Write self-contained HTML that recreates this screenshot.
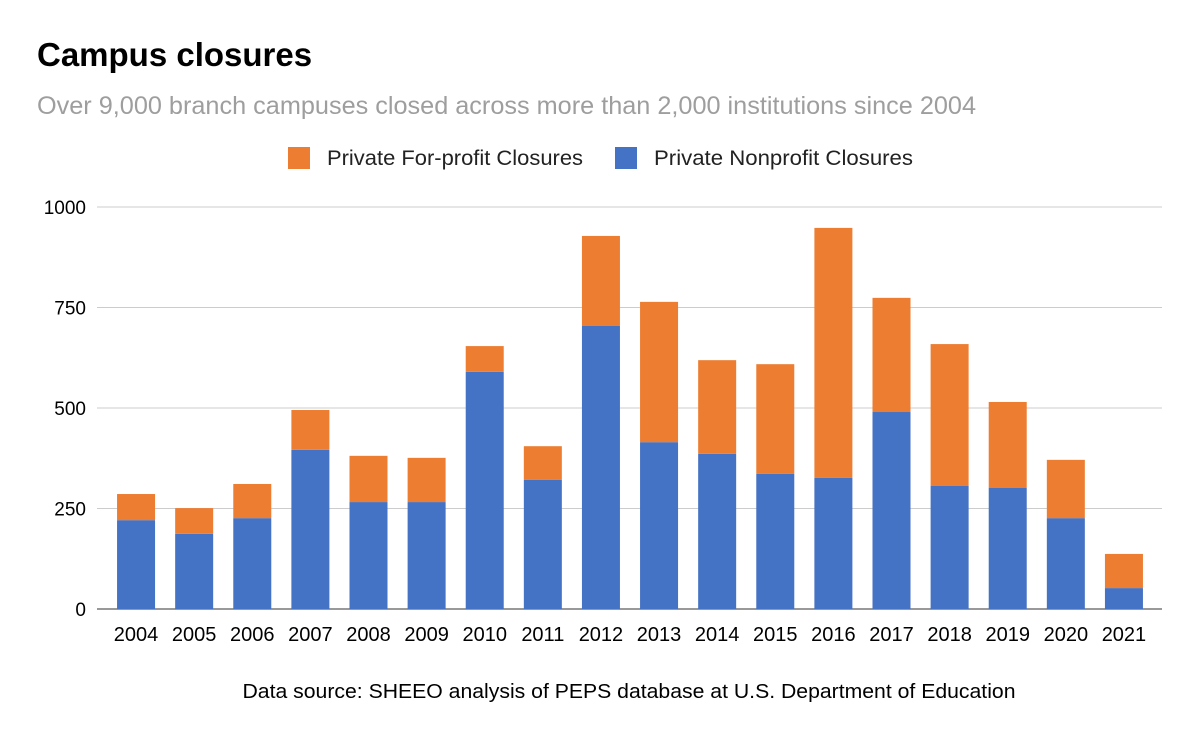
<!DOCTYPE html>
<html><head><meta charset="utf-8">
<style>
body{margin:0;background:#fff;font-family:"Liberation Sans",sans-serif;}
#wrap{position:relative;width:1200px;height:742px;overflow:hidden;}
</style></head>
<body>
<div id="wrap">
<svg id="chart" width="1200" height="742" xmlns="http://www.w3.org/2000/svg">
<text x="37" y="66" font-size="33" font-weight="bold" fill="#000">Campus closures</text>
<text x="37" y="114" font-size="25" fill="#9e9e9e" textLength="939" lengthAdjust="spacingAndGlyphs">Over 9,000 branch campuses closed across more than 2,000 institutions since 2004</text>
<g>
<g><rect x="288" y="147" width="22" height="22" fill="#ed7d31"/><text x="327" y="165" font-size="21" fill="#222" textLength="256" lengthAdjust="spacingAndGlyphs">Private For-profit Closures</text></g>
<g><rect x="615" y="147" width="22" height="22" fill="#4472c4"/><text x="654" y="165" font-size="21" fill="#222" textLength="259" lengthAdjust="spacingAndGlyphs">Private Nonprofit Closures</text></g>
</g>
<g id="grid"></g>
<g id="bars"></g>
<g id="xlabels"></g>
<g id="ylabels"></g>
<text x="629" y="698" font-size="20" fill="#000" text-anchor="middle" textLength="773" lengthAdjust="spacingAndGlyphs">Data source: SHEEO analysis of PEPS database at U.S. Department of Education</text>
</svg>
</div>
<script>
const years = ["2004","2005","2006","2007","2008","2009","2010","2011","2012","2013","2014","2015","2016","2017","2018","2019","2020","2021"];
const nonprofit = [221,187,226,396,266,266,590,321,704,415,386,336,326,490,306,301,226,52];
const forprofit = [65,64,85,99,115,110,64,84,224,349,233,273,622,284,353,214,145,85];
const yTicks = [0,250,500,750,1000];

const NS="http://www.w3.org/2000/svg";
const gx0=97,gx1=1162,x0=107,x1=1153,y0=609,yTop=207,yMax=1000;
const step=(x1-x0)/years.length;
const barW=38;
function yScale(v){return y0-(v/yMax)*(y0-yTop);}
function xScale(i){return x0+step*(i+0.5);}
function el(tag,attrs){const e=document.createElementNS(NS,tag);for(const k in attrs)e.setAttribute(k,attrs[k]);return e;}

const grid=document.getElementById('grid'),ylab=document.getElementById('ylabels');
yTicks.forEach(t=>{
  const y=yScale(t);
  const l=el('line',{x1:gx0,x2:gx1,y1:y,y2:y,stroke:t===0?'#333':'#ccc','stroke-width':1});
  
  
  grid.appendChild(l);
  const tx=el('text',{x:86,y:y+7,'font-size':19,'text-anchor':'end',fill:'#000'});
  tx.textContent=t;
  
  
  ylab.appendChild(tx);
});
const bars=document.getElementById('bars'),xlab=document.getElementById('xlabels');
years.forEach((yr,i)=>{
  const cx=xScale(i);
  const b=el('rect',{x:cx-barW/2,y:yScale(nonprofit[i]),width:barW,height:y0-yScale(nonprofit[i]),fill:'#4472c4'});
  
  
  bars.appendChild(b);
  const top=nonprofit[i]+forprofit[i];
  const o=el('rect',{x:cx-barW/2,y:yScale(top),width:barW,height:yScale(nonprofit[i])-yScale(top),fill:'#ed7d31'});
  
  
  bars.appendChild(o);
  const t=el('text',{x:cx,y:641,'font-size':20,'text-anchor':'middle',fill:'#000'});
  t.textContent=yr;
  
  
  xlab.appendChild(t);
});
</script>
</body></html>
